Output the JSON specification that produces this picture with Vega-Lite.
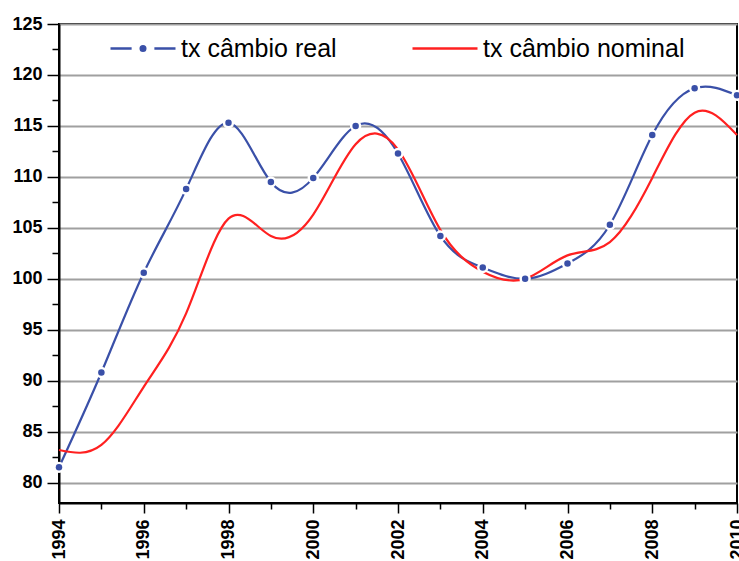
{
  "$schema": "https://vega.github.io/schema/vega-lite/v6.json",
  "width": 678,
  "height": 479,
  "autosize": {"type": "none"},
  "padding": {"left": 59, "top": 24, "right": 2, "bottom": 58},
  "config": {"view": {"stroke": "#000", "strokeWidth": 2}, "font": "Liberation Sans"},
  "data": {"values": [
    {"year": 1994, "serie": "tx câmbio real", "value": 81.5},
    {"year": 1995, "serie": "tx câmbio real", "value": 90.8},
    {"year": 1996, "serie": "tx câmbio real", "value": 100.6},
    {"year": 1997, "serie": "tx câmbio real", "value": 108.8},
    {"year": 1998, "serie": "tx câmbio real", "value": 115.3},
    {"year": 1999, "serie": "tx câmbio real", "value": 109.5},
    {"year": 2000, "serie": "tx câmbio real", "value": 109.9},
    {"year": 2001, "serie": "tx câmbio real", "value": 115.0},
    {"year": 2002, "serie": "tx câmbio real", "value": 112.3},
    {"year": 2003, "serie": "tx câmbio real", "value": 104.2},
    {"year": 2004, "serie": "tx câmbio real", "value": 101.1},
    {"year": 2005, "serie": "tx câmbio real", "value": 100.0},
    {"year": 2006, "serie": "tx câmbio real", "value": 101.5},
    {"year": 2007, "serie": "tx câmbio real", "value": 105.3},
    {"year": 2008, "serie": "tx câmbio real", "value": 114.1},
    {"year": 2009, "serie": "tx câmbio real", "value": 118.7},
    {"year": 2010, "serie": "tx câmbio real", "value": 118.0},
    {"year": 1994, "serie": "tx câmbio nominal", "value": 83.2},
    {"year": 1995, "serie": "tx câmbio nominal", "value": 83.7},
    {"year": 1996, "serie": "tx câmbio nominal", "value": 89.4},
    {"year": 1997, "serie": "tx câmbio nominal", "value": 96.6},
    {"year": 1998, "serie": "tx câmbio nominal", "value": 105.9},
    {"year": 1999, "serie": "tx câmbio nominal", "value": 104.2},
    {"year": 2000, "serie": "tx câmbio nominal", "value": 106.3},
    {"year": 2001, "serie": "tx câmbio nominal", "value": 113.2},
    {"year": 2002, "serie": "tx câmbio nominal", "value": 112.7},
    {"year": 2003, "serie": "tx câmbio nominal", "value": 104.8},
    {"year": 2004, "serie": "tx câmbio nominal", "value": 100.7},
    {"year": 2005, "serie": "tx câmbio nominal", "value": 100.0},
    {"year": 2006, "serie": "tx câmbio nominal", "value": 102.3},
    {"year": 2007, "serie": "tx câmbio nominal", "value": 103.6},
    {"year": 2008, "serie": "tx câmbio nominal", "value": 109.9},
    {"year": 2009, "serie": "tx câmbio nominal", "value": 116.3},
    {"year": 2010, "serie": "tx câmbio nominal", "value": 114.1}
  ]},
  "layer": [
    {
      "mark": {"type": "line", "interpolate": "natural", "strokeWidth": 2.2},
      "encoding": {
        "x": {
          "field": "year", "type": "quantitative",
          "scale": {"domain": [1994, 2010], "nice": false, "zero": false},
          "axis": {
            "values": [1994, 1996, 1998, 2000, 2002, 2004, 2006, 2008, 2010],
            "format": "d", "title": null, "grid": false,
            "tickSize": 10, "tickColor": "#000", "tickWidth": 1.5,
            "domainColor": "#000", "domainWidth": 2,
            "labelAngle": -90, "labelFont": "Liberation Sans", "labelFontWeight": "bold",
            "labelFontSize": 18, "labelColor": "#000", "labelPadding": 6,
            "labelFlush": false, "labelOverlap": false
          }
        },
        "y": {
          "field": "value", "type": "quantitative",
          "scale": {"domain": [78, 125], "nice": false, "zero": false},
          "axis": {
            "values": [80, 85, 90, 95, 100, 105, 110, 115, 120, 125],
            "title": null, "grid": true, "gridColor": "#a0a0a0", "gridWidth": 2,
            "tickSize": 12, "tickColor": "#000", "tickWidth": 1.5,
            "domainColor": "#000", "domainWidth": 2,
            "labelFont": "Liberation Sans", "labelFontWeight": "bold",
            "labelFontSize": 18, "labelColor": "#000", "labelPadding": 5,
            "labelFlush": false, "labelOverlap": false
          }
        },
        "color": {
          "field": "serie", "type": "nominal",
          "scale": {"domain": ["tx câmbio real", "tx câmbio nominal"], "range": ["#3a50a8", "#ff2020"]},
          "legend": {
            "orient": "none", "legendX": 50, "legendY": -9.5, "direction": "horizontal",
            "title": null, "labelFontSize": 25, "labelFont": "Liberation Sans", "labelColor": "#000",
            "labelLimit": 0,
            "symbolSize": 4225, "symbolStrokeWidth": 2.5, "labelOffset": 4,
            "columnPadding": 70, "padding": 0,
            "encode": {
              "symbols": {
                "update": {
                  "shape": {"signal": "datum.value === 'tx câmbio real' ? 'M-1,0H-0.35M0.35,0H1M0.07,0A0.07,0.07,0,1,1,-0.07,0A0.07,0.07,0,1,1,0.07,0Z' : 'M-1,0H1'"},
                  "fill": {"signal": "datum.value === 'tx câmbio real' ? '#3a50a8' : 'transparent'"}
                }
              }
            }
          }
        }
      }
    },
    {
      "transform": [{"filter": "datum.serie === 'tx câmbio real'"}],
      "mark": {"type": "point", "filled": true, "fill": "#ffffff", "size": 130, "opacity": 1},
      "encoding": {
        "x": {
          "field": "year", "type": "quantitative",
          "axis": {
            "orient": "bottom",
            "values": [1995, 1997, 1999, 2001, 2003, 2005, 2007, 2009],
            "title": null, "grid": false, "labels": false, "domain": false,
            "tickSize": 6, "tickColor": "#000", "tickWidth": 1.5
          }
        },
        "y": {
          "field": "value", "type": "quantitative",
          "axis": {
            "orient": "left",
            "values": [82.5, 87.5, 92.5, 97.5, 102.5, 107.5, 112.5, 117.5, 122.5],
            "title": null, "grid": false, "labels": false, "domain": false,
            "tickSize": 7, "tickColor": "#000", "tickWidth": 1.5
          }
        }
      }
    },
    {
      "transform": [{"filter": "datum.serie === 'tx câmbio real'"}],
      "mark": {"type": "point", "filled": true, "fill": "#3a50a8", "size": 42, "opacity": 1},
      "encoding": {
        "x": {"field": "year", "type": "quantitative", "axis": null},
        "y": {"field": "value", "type": "quantitative", "axis": null}
      }
    }
  ],
  "resolve": {"axis": {"x": "independent", "y": "independent"}}
}
